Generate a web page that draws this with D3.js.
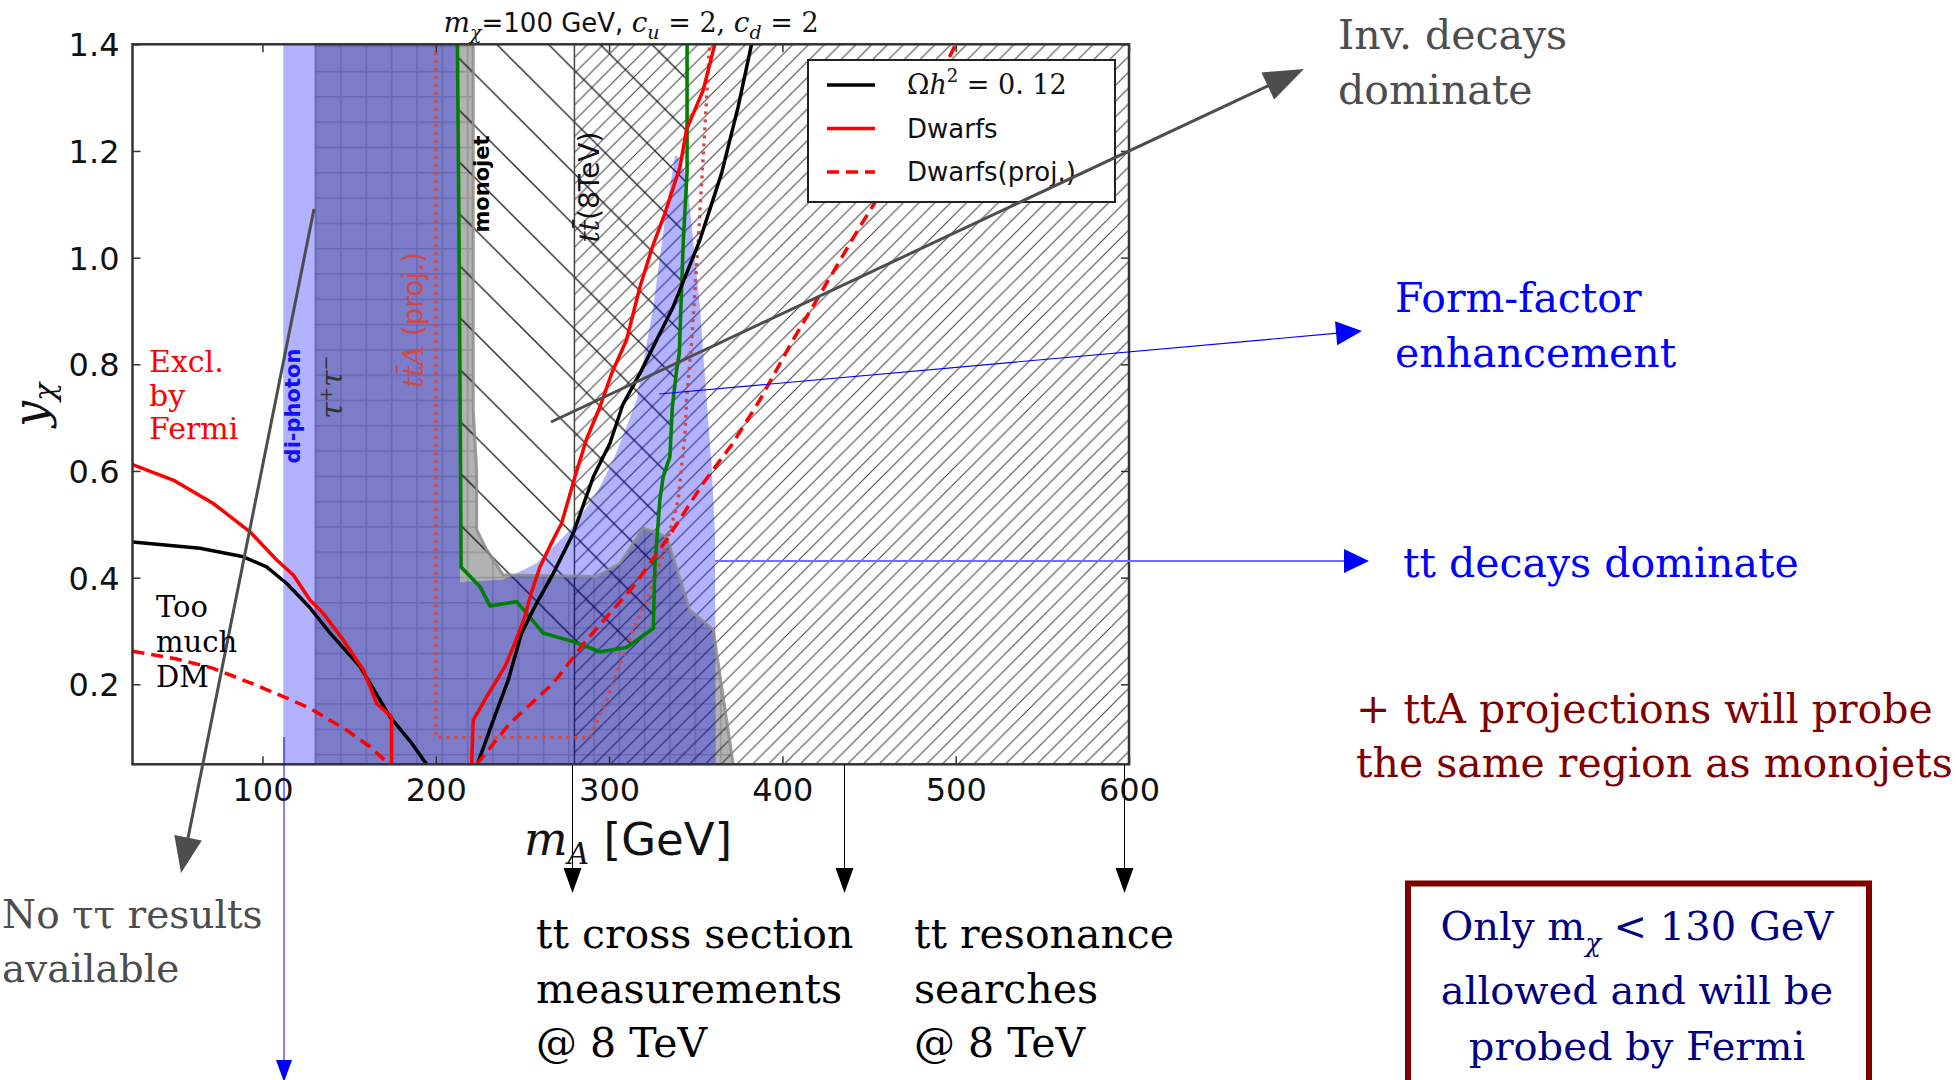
<!DOCTYPE html>
<html><head><meta charset="utf-8">
<script src="https://cdn.jsdelivr.net/npm/d3@7"></script>
<style>body{margin:0;background:#fff;} svg{display:block;}</style>
</head><body>
<svg id="chart" width="1956" height="1080"></svg>
<script>
// ---------------- data ----------------
const xTicks = [100, 200, 300, 400, 500, 600];
const yTicks = [0.2, 0.4, 0.6, 0.8, 1.0, 1.2, 1.4];
const xDomain = [25, 600];
const yDomain = [0.05, 1.4];

// Omega h^2 = 0.12 (black)
const relicLeft = [[25,0.467],[64,0.455],[89,0.439],[102.4,0.42],[114,0.389],[127,0.345],[139,0.296],[156.3,0.233],[173.6,0.139],[186,0.09],[194.7,0.05]];
const relicRight = [[224,0.05],[233.2,0.133],[241.8,0.208],[249.5,0.296],[257.2,0.346],[267.8,0.408],[279.3,0.483],[290.9,0.589],[300.5,0.652],[308,0.725],[317.8,0.783],[337,0.908],[352.4,1.033],[364.9,1.158],[374.5,1.283],[382.2,1.4]];
// Dwarfs (red solid)
const dwarfsLeft = [[25,0.612],[48.5,0.583],[71.6,0.539],[92.8,0.486],[108.2,0.433],[117.8,0.405],[127.4,0.358],[135.1,0.333],[146.6,0.283],[158.2,0.227],[165.9,0.164],[174.5,0.139],[174.5,0.05]];
const dwarfsRight = [[220.7,0.05],[221.6,0.133],[230,0.18],[239.9,0.233],[246,0.28],[251.4,0.327],[255,0.37],[260.1,0.42],[266,0.46],[272.6,0.502],[280.3,0.589],[287,0.66],[294.7,0.72],[301.5,0.783],[310.1,0.846],[317.8,0.945],[325,1.02],[332.2,1.083],[340.9,1.17],[344.7,1.24],[354.3,1.314],[361,1.4]];
// Dwarfs projection (red dashed)
const dwarfsProjLeft = [[25,0.262],[50,0.248],[71.6,0.23],[95,0.2],[112,0.177],[127.4,0.155],[148.6,0.114],[162,0.083],[173,0.05]];
const dwarfsProjRight = [[223.6,0.05],[242.8,0.127],[267.8,0.202],[287,0.283],[313.9,0.383],[333.2,0.471],[354.3,0.577],[371,0.65],[387,0.733],[406.2,0.846],[425.5,0.952],[444.7,1.058],[454.3,1.108],[470,1.2],[485,1.3],[500,1.4]];
// monojet contour (green)
const monojetContour = [[212.5,1.4],[213.5,1.0],[214.3,0.6],[214.6,0.42],[225.5,0.383],[231.3,0.347],[246.7,0.355],[262,0.296],[279.3,0.28],[294.7,0.261],[310.1,0.269],[325.5,0.305],[326.4,0.42],[329.3,0.546],[331.2,0.589],[335.1,0.627],[336.5,0.72],[339,0.79],[340.5,0.82],[342.8,1.03],[345,1.16],[345,1.4]];
// ttA projection (dotted)
const ttAProj = [[200,1.4],[200,0.1],[289,0.1],[298.6,0.171],[310,0.27],[321.6,0.358],[332.2,0.452],[339.9,0.546],[343.8,0.67],[344.7,0.734],[347.6,0.84],[351.4,1.03],[356.3,1.3],[358,1.4]];
// di-photon excluded region (blue)
const diphotonRegion = [[112,0.05],[112,1.4],[212,1.4],[213,1.0],[213.8,0.6],[214,0.392],[239,0.396],[258.2,0.427],[277.4,0.489],[292.8,0.558],[302.4,0.62],[310.1,0.683],[315.9,0.733],[325.5,0.908],[333.2,1.095],[338,1.189],[339,1.192],[344.7,1.152],[348.5,1.033],[352.4,0.908],[356.3,0.733],[359.2,0.608],[361.1,0.483],[361.6,0.05]];
// tau tau excluded region (grey, grid hatch)
const tautauEdge = [[221.6,1.4],[221.6,0.715],[223.6,0.6],[223.6,0.49],[229.4,0.452],[239,0.405],[292.8,0.402],[306.3,0.427],[319.7,0.493],[333.2,0.477],[346.6,0.339],[360.1,0.302],[371.6,0.05]];
const tautauRegion = [[130,0.05],[130,1.4]].concat(tautauEdge);
// ttbar 8 TeV region (// hatch)
const ttbar8Region = [[280,0.05],[280,1.4],[600,1.4],[600,0.05]];

const legendLabels = ["Dwarfs", "Dwarfs(proj.)"];

// ---------------- layout ----------------
const svg = d3.select("#chart");
const X0 = 132.5, X1 = 1129, Y0 = 764.3, Y1 = 44.3;
const x = d3.scaleLinear().domain(xDomain).range([X0, X1]);
const y = d3.scaleLinear().domain(yDomain).range([Y0, Y1]);
const line = d3.line().x(d => x(d[0])).y(d => y(d[1]));

const defs = svg.append("defs");
defs.append("clipPath").attr("id", "plotclip").append("rect")
  .attr("x", X0).attr("y", Y1).attr("width", X1 - X0).attr("height", Y0 - Y1);

const pF = defs.append("pattern").attr("id", "hatchFwd").attr("patternUnits", "userSpaceOnUse")
  .attr("width", 15.8).attr("height", 15.8);
pF.append("path").attr("d", "M-4,4L4,-4M0,15.8L15.8,0M11.8,19.8L19.8,11.8")
  .attr("stroke", "#4a4a4a").attr("stroke-width", 1.1);

const s = 51.7;
const pB = defs.append("pattern").attr("id", "hatchBack").attr("patternUnits", "userSpaceOnUse")
  .attr("width", s).attr("height", s).attr("patternTransform", "translate(38.8,0)");
pB.append("path").attr("d", `M0,0L${s},${s}M-10,${s-10}L10,${s+10}M${s-10},-10L${s+10},10`)
  .attr("stroke", "#1a1a1a").attr("stroke-width", 1.3);

const g = 25.3;
const pG = defs.append("pattern").attr("id", "grid").attr("patternUnits", "userSpaceOnUse")
  .attr("width", g).attr("height", g).attr("patternTransform", "translate(315,425)");
pG.append("path").attr("d", `M0,0.75H${g}M0.75,0V${g}`)
  .attr("stroke", "rgba(0,0,0,0.17)").attr("stroke-width", 1.5);

const plot = svg.append("g").attr("clip-path", "url(#plotclip)");

// hatched regions (under fills)
plot.append("path").attr("d", line(ttbar8Region) + "Z").attr("fill", "url(#hatchFwd)");
plot.append("path").attr("d", line(monojetContour) + "Z").attr("fill", "url(#hatchBack)");
plot.append("path").attr("d", line(ttbar8Region.slice(0, 2)))
  .attr("fill", "none").attr("stroke", "#444").attr("stroke-width", 1.5);

// grey region
plot.append("path").attr("d", line(tautauRegion) + "Z").attr("fill", "rgba(0,0,0,0.3)");
plot.append("path").attr("d", line(tautauRegion) + "Z").attr("fill", "url(#grid)");
// blue region
plot.append("path").attr("d", line(diphotonRegion) + "Z").attr("fill", "rgba(0,0,255,0.3)");
plot.append("path").attr("d", line(tautauEdge)).attr("fill", "none")
  .attr("stroke", "rgba(140,140,140,0.85)").attr("stroke-width", 3);

// curves
plot.append("path").attr("d", line(ttAProj)).attr("fill", "none")
  .attr("stroke", "#d04848").attr("stroke-width", 3.4).attr("stroke-dasharray", "3,5");
plot.append("path").attr("d", line(monojetContour)).attr("fill", "none")
  .attr("stroke", "#008000").attr("stroke-width", 3.6).attr("stroke-linejoin", "round");
[relicLeft, relicRight].forEach(d => plot.append("path").attr("d", line(d)).attr("fill", "none")
  .attr("stroke", "#000").attr("stroke-width", 3.5).attr("stroke-linejoin", "round"));
[dwarfsLeft, dwarfsRight].forEach(d => plot.append("path").attr("d", line(d)).attr("fill", "none")
  .attr("stroke", "#ff0000").attr("stroke-width", 3.5).attr("stroke-linejoin", "round"));
[dwarfsProjLeft, dwarfsProjRight].forEach(d => plot.append("path").attr("d", line(d)).attr("fill", "none")
  .attr("stroke", "#ff0000").attr("stroke-width", 3.5).attr("stroke-dasharray", "12,7"));

// in-plot labels (rotated)
function vlabel(px, py, parts, opts) {
  const t = svg.append("text").attr("transform", `translate(${px},${py}) rotate(-90)`)
    .attr("text-anchor", "middle").attr("dy", "0.35em")
    .attr("font-family", opts.family || "DejaVu Sans").attr("font-size", opts.size)
    .attr("font-weight", opts.weight || "normal").attr("fill", opts.fill);
  parts.forEach(p => {
    const ts = t.append("tspan").text(p.t);
    if (p.style) ts.attr("font-style", p.style);
    if (p.family) ts.attr("font-family", p.family);
    if (p.size) ts.attr("font-size", p.size);
    if (p.dy) ts.attr("dy", p.dy);
  });
  return t;
}
vlabel(293, 406, [{t: "di-photon"}], {size: 21, weight: "bold", fill: "#1010ff"});
vlabel(331, 387, [{t: "τ", style: "italic", family: "DejaVu Serif"}, {t: "+", size: 18, dy: -10},
  {t: "τ", style: "italic", family: "DejaVu Serif", dy: 10}, {t: "−", size: 18, dy: -10}],
  {size: 30, fill: "#333"});
vlabel(413, 320, [{t: "tt̄A", style: "italic", family: "DejaVu Serif"}, {t: " (proj.)"}],
  {size: 28, fill: "#d04848"});
vlabel(482, 184, [{t: "monojet"}], {size: 21, weight: "bold", fill: "#000"});
vlabel(589, 187, [{t: "tt̄", style: "italic", family: "DejaVu Serif"}, {t: "(8TeV)"}],
  {size: 28, fill: "#111"});

// axes
const ax = svg.append("g").attr("font-family", "DejaVu Sans");
const axB = ax.append("g").attr("transform", `translate(0,${Y0})`)
  .call(d3.axisBottom(x).tickValues(xTicks).tickSizeInner(-8).tickSizeOuter(0).tickPadding(14).tickFormat(d3.format("d")));
const axT = ax.append("g").attr("transform", `translate(0,${Y1})`)
  .call(d3.axisTop(x).tickValues(xTicks).tickSizeInner(-8).tickSizeOuter(0).tickFormat(""));
const axL = ax.append("g").attr("transform", `translate(${X0},0)`)
  .call(d3.axisLeft(y).tickValues(yTicks).tickSizeInner(-8).tickSizeOuter(0).tickPadding(13).tickFormat(d3.format(".1f")));
const axR = ax.append("g").attr("transform", `translate(${X1},0)`)
  .call(d3.axisRight(y).tickValues(yTicks).tickSizeInner(-8).tickSizeOuter(0).tickFormat(""));
[axB, axT, axL, axR].forEach(a => {
  a.select(".domain").remove();
  a.selectAll(".tick line").attr("stroke", "#333").attr("stroke-width", 1.5);
  a.selectAll(".tick text").attr("font-size", 32).attr("fill", "#111").attr("font-family", "DejaVu Sans");
});
axL.selectAll(".tick text").attr("dy", "0.36em");
svg.append("rect").attr("x", X0).attr("y", Y1).attr("width", X1 - X0).attr("height", Y0 - Y1)
  .attr("fill", "none").attr("stroke", "#333").attr("stroke-width", 2.5);

// title
const title = svg.append("text").attr("x", 631).attr("y", 32).attr("text-anchor", "middle")
  .attr("font-family", "DejaVu Sans").attr("font-size", 26).attr("fill", "#111");
title.append("tspan").text("m").attr("font-family", "DejaVu Serif").attr("font-style", "italic").attr("font-size", 28);
title.append("tspan").text("χ").attr("font-family", "DejaVu Serif").attr("font-style", "italic").attr("font-size", 19).attr("dy", 7);
title.append("tspan").text("=100 GeV, ").attr("dy", -7);
title.append("tspan").text("c").attr("font-family", "DejaVu Serif").attr("font-style", "italic").attr("font-size", 28);
title.append("tspan").text("u").attr("font-family", "DejaVu Serif").attr("font-style", "italic").attr("font-size", 19).attr("dy", 7);
title.append("tspan").text(" = 2, ").attr("font-family", "DejaVu Serif").attr("font-size", 27).attr("dy", -7);
title.append("tspan").text("c").attr("font-family", "DejaVu Serif").attr("font-style", "italic").attr("font-size", 28);
title.append("tspan").text("d").attr("font-family", "DejaVu Serif").attr("font-style", "italic").attr("font-size", 19).attr("dy", 7);
title.append("tspan").text(" = 2").attr("font-family", "DejaVu Serif").attr("font-size", 27).attr("dy", -7);

// axis labels
const xl = svg.append("text").attr("x", 628).attr("y", 855).attr("text-anchor", "middle")
  .attr("font-family", "DejaVu Sans").attr("font-size", 45).attr("fill", "#111");
xl.append("tspan").text("m").attr("font-family", "DejaVu Serif").attr("font-style", "italic").attr("font-size", 46);
xl.append("tspan").text("A").attr("font-family", "DejaVu Serif").attr("font-style", "italic").attr("font-size", 30).attr("dy", 9);
xl.append("tspan").text(" [GeV]").attr("dy", -9);
const yl = svg.append("text").attr("transform", "translate(46,405) rotate(-90)").attr("text-anchor", "middle")
  .attr("font-family", "DejaVu Serif").attr("font-style", "italic").attr("font-size", 46).attr("fill", "#111");
yl.append("tspan").text("y");
yl.append("tspan").text("χ").attr("font-size", 30).attr("dy", 9);

// legend
const lg = svg.append("g");
lg.append("rect").attr("x", 808).attr("y", 60).attr("width", 307).attr("height", 142)
  .attr("fill", "#fff").attr("stroke", "#222").attr("stroke-width", 2);
const rows = [85, 128.5, 172];
lg.append("line").attr("x1", 827).attr("x2", 875).attr("y1", rows[0]).attr("y2", rows[0]).attr("stroke", "#000").attr("stroke-width", 3.5);
lg.append("line").attr("x1", 827).attr("x2", 875).attr("y1", rows[1]).attr("y2", rows[1]).attr("stroke", "#ff0000").attr("stroke-width", 3.5);
lg.append("line").attr("x1", 827).attr("x2", 875).attr("y1", rows[2]).attr("y2", rows[2]).attr("stroke", "#ff0000").attr("stroke-width", 3.5).attr("stroke-dasharray", "12,7");
const om = lg.append("text").attr("x", 907).attr("y", rows[0] + 9).attr("font-family", "DejaVu Serif").attr("font-size", 27).attr("fill", "#111");
om.append("tspan").text("Ω");
om.append("tspan").text("h").attr("font-style", "italic");
om.append("tspan").text("2").attr("font-size", 18).attr("dy", -12);
om.append("tspan").text(" = 0. 12").attr("dy", 12);
legendLabels.forEach((t, i) => lg.append("text").attr("x", 907).attr("y", rows[i + 1] + 9)
  .attr("font-family", "DejaVu Sans").attr("font-size", 26).attr("fill", "#111").text(t));

// annotations
function arrow(x1, y1, x2, y2, color, w, hl, hw, lineColor) {
  const dx = x2 - x1, dy = y2 - y1, L = Math.hypot(dx, dy), ux = dx / L, uy = dy / L;
  const bx = x2 - ux * hl, by = y2 - uy * hl;
  svg.append("line").attr("x1", x1).attr("y1", y1).attr("x2", bx + ux * 2).attr("y2", by + uy * 2)
    .attr("stroke", lineColor || color).attr("stroke-width", w);
  svg.append("path").attr("d", `M${x2},${y2}L${bx - uy * hw / 2},${by + ux * hw / 2}L${bx + uy * hw / 2},${by - ux * hw / 2}Z`)
    .attr("fill", color);
}
arrow(551, 422, 1304, 69, "#4d4d4d", 3, 40, 30);
arrow(314, 209, 181, 873, "#4d4d4d", 3, 36, 28);
arrow(659, 394, 1362, 331, "#0000ff", 1.2, 26, 24);
arrow(715, 561, 1369, 561, "#0000ff", 2, 25, 24, "#6f6fff");
arrow(284, 737, 284, 1082, "#0000ff", 1, 22, 16);
arrow(572.5, 765, 572.5, 893, "#000", 1, 25, 18);
arrow(844.5, 765, 844.5, 893, "#000", 1, 25, 18);
arrow(1124.5, 765, 1124.5, 893, "#000", 1, 25, 18);

function textLines(xp, ys, lines, color, size, anchor) {
  lines.forEach((t, i) => svg.append("text").attr("x", Array.isArray(xp) ? xp[i] : xp).attr("y", ys[i])
    .attr("text-anchor", anchor || "start").attr("font-family", "DejaVu Serif")
    .attr("font-size", size).attr("fill", color).text(t));
}
textLines(1338, [49, 104], ["Inv. decays", "dominate"], "#4d4d4d", 41);
textLines(1395, [312, 367], ["Form-factor", "enhancement"], "#0000ff", 41);
textLines(1403, [577], ["tt decays dominate"], "#0000ff", 41);
textLines(1356, [723, 777], ["+ ttA projections will probe", "the same region as monojets"], "#800000", 41);
textLines(149, [372, 406, 439], ["Excl.", "by", "Fermi"], "#ff0000", 30);
textLines(156, [617, 652, 687], ["Too", "much", "DM"], "#000", 29);
textLines(2, [928, 982], ["No ττ results", "available"], "#4d4d4d", 39);
textLines(536, [948, 1003, 1057], ["tt cross section", "measurements", "@ 8 TeV"], "#000", 41);
textLines(914, [948, 1003, 1057], ["tt resonance", "searches", "@ 8 TeV"], "#000", 41);

// box
svg.append("rect").attr("x", 1408).attr("y", 883.5).attr("width", 461).attr("height", 260)
  .attr("fill", "#fff").attr("stroke", "#800000").attr("stroke-width", 6);
const b1 = svg.append("text").attr("x", 1637).attr("y", 940).attr("text-anchor", "middle")
  .attr("font-family", "DejaVu Serif").attr("font-size", 40).attr("fill", "#000080");
b1.append("tspan").text("Only m");
b1.append("tspan").text("χ").attr("font-style", "italic").attr("font-size", 26).attr("dy", 12);
b1.append("tspan").text(" < 130 GeV").attr("dy", -12);
textLines(1637, [1004, 1060], ["allowed and will be", "probed by Fermi"], "#000080", 40, "middle");
</script>
</body></html>
